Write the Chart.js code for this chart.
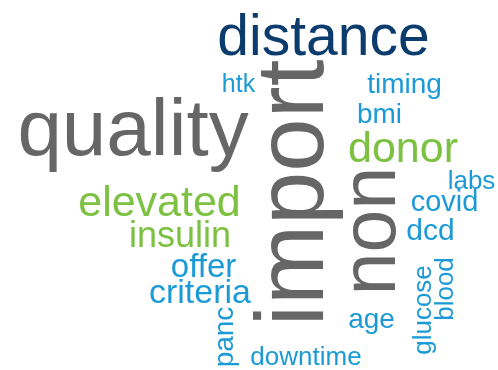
<!DOCTYPE html>
<html>
<head>
<meta charset="utf-8">
<script src="https://cdn.jsdelivr.net/npm/chart.js@4.4.1/dist/chart.umd.min.js"></script>
<style>
html,body{margin:0;padding:0;background:#fff;}
#wrap{width:498px;height:370px;}
</style>
</head>
<body>
<div id="wrap"><canvas id="c" width="498" height="370"></canvas></div>
<script>
// Word cloud data
const words   = ["import","quality","non","distance","donor","elevated","insulin","criteria","offer","dcd","covid","timing","bmi","age","panc","labs","glucose","blood","downtime","htk"];
const weights = [24, 20, 19.25, 14.25, 10.75, 10.75, 9, 8.5, 8.25, 7.5, 7.25, 7, 7, 7, 7, 6.5, 6.5, 6.5, 6.5, 6.25];
const groups  = [0, 0, 0, 1, 2, 2, 2, 3, 3, 3, 3, 3, 3, 3, 3, 3, 3, 3, 3, 3];
// layout of the cloud (anchor in scale units: text baseline / centre)
const layoutX = [323, 133, 395, 323.5, 403, 159.5, 180, 200, 203.5, 430.5, 444.5, 404.5, 379.5, 371.5, 233, 471.5, 431, 453, 306, 238.5];
const layoutY = [193, 155, 231, 55, 162, 216, 247, 303, 277, 240, 211, 93, 123, 328, 337, 189, 310, 289, 365, 92];
const vertical = [true,false,true,false,false,false,false,false,false,false,false,false,false,false,true,false,true,true,false,false];

const groupColors = ["#666666", "#0c3c6e", "#7cc142", "#1b9ad6"];
const sizeScale = 4;

const points = words.map((w, i) => ({x: layoutX[i], y: layoutY[i]}));

const wordPlugin = {
  id: 'wordPlugin',
  afterDatasetsDraw(chart) {
    const ctx = chart.ctx;
    const meta = chart.getDatasetMeta(0);
    meta.data.forEach((pt, i) => {
      ctx.save();
      ctx.translate(pt.x, pt.y);
      if (vertical[i]) ctx.rotate(-Math.PI / 2);
      ctx.font = (weights[i] * sizeScale) + 'px "Liberation Sans", Arial, sans-serif';
      ctx.fillStyle = groupColors[groups[i]];
      ctx.textAlign = 'center';
      ctx.textBaseline = 'alphabetic';
      ctx.fillText(words[i], 0, 0);
      ctx.restore();
    });
  }
};

new Chart(document.getElementById('c'), {
  type: 'scatter',
  data: { datasets: [{ data: points, pointRadius: 0, pointHoverRadius: 0 }] },
  options: {
    responsive: false,
    animation: false,
    layout: { padding: 0 },
    plugins: { legend: { display: false }, tooltip: { enabled: false } },
    scales: {
      x: { type: 'linear', min: 0, max: 498, display: false },
      y: { type: 'linear', min: 0, max: 370, reverse: true, display: false }
    }
  },
  plugins: [wordPlugin]
});
</script>
</body>
</html>
